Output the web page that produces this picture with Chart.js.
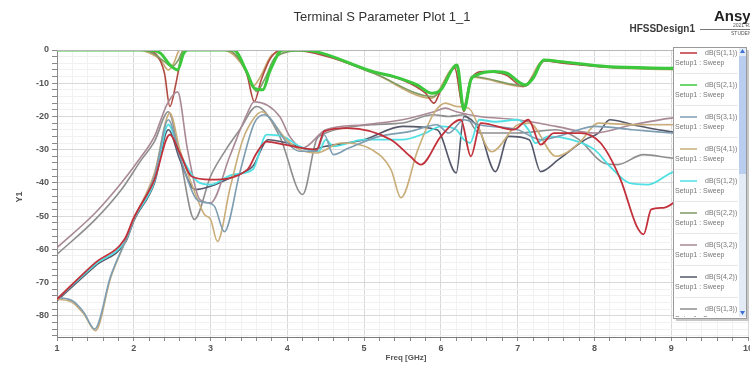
<!DOCTYPE html>
<html>
<head>
<meta charset="utf-8">
<script src="https://cdn.jsdelivr.net/npm/chart.js@4.4.1/dist/chart.umd.min.js"></script>
<style>
  html, body { margin: 0; padding: 0; background: #fff; }
  #wrap { width: 750px; height: 367px; }
</style>
</head>
<body>
<div id="wrap"><canvas id="chart" width="750" height="367"></canvas></div>
<script>
// names shown in the (scrolling) legend box
const seriesNames = [
  "dB(S(1,1))", "dB(S(2,1))", "dB(S(3,1))", "dB(S(4,1))", "dB(S(1,2))",
  "dB(S(2,2))", "dB(S(3,2))", "dB(S(4,2))", "dB(S(1,3))", "dB(S(3,3))", "dB(S(4,4))"
];
const xTickLabels = ["1", "2", "3", "4", "5", "6", "7", "8", "9", "10"];
const yTickLabels = ["0", "-10", "-20", "-30", "-40", "-50", "-60", "-70", "-80"];

// S(1,1)
const s11Freq = [1, 1.5, 1.88, 2.0, 2.27, 2.47, 2.6, 2.75, 3.0, 3.48, 3.6, 3.73, 3.96, 4.38, 4.48, 4.78, 5.35, 5.6, 5.74, 6.0, 6.26, 6.39, 6.52, 6.95, 7.14, 7.3, 7.47, 7.82, 8.08, 8.34, 8.55, 8.64, 8.74, 8.9, 9.03, 9.5, 10];
const s11Db = [-75, -64, -57, -50.5, -39, -25.5, -31, -38, -39, -36, -31, -27.6, -28.5, -30, -24.5, -23.5, -27, -32, -34.5, -26, -21, -32, -22, -24, -21, -28.5, -25, -25, -28, -39, -53, -55.5, -48, -47.5, -46, -35, -22];

// S(2,1)
const s21Freq = [1, 2.2, 2.35, 2.47, 2.57, 2.65, 2.7, 3.3, 3.47, 3.57, 3.68, 3.77, 3.94, 4.2, 4.38, 5.13, 5.39, 5.69, 5.88, 6.0, 6.17, 6.21, 6.3, 6.39, 6.47, 6.69, 6.86, 7.1, 7.2, 7.34, 7.56, 8.16, 9.03, 10];
const s21Db = [0, 0, -1, -4.5, -6, -1, 0, 0, -6.5, -11.5, -12, -6.5, 0, 0, -0.5, -6.6, -8, -10.5, -13, -12, -5, -4.5, -18, -9, -7.5, -6.5, -7, -10.5, -8.5, -3, -3.5, -5, -5.5, -6];

// S(3,1)
const s31Freq = [1, 1.2, 1.35, 1.49, 1.7, 1.9, 2.0, 2.27, 2.45, 2.6, 2.82, 2.95, 3.05, 3.18, 3.38, 3.57, 3.7, 4.0, 4.16, 4.38, 4.48, 4.6, 4.8, 5.2, 5.6, 5.95, 6.1, 6.3, 6.5, 7.0, 7.3, 7.6, 8.0, 8.5, 9.0, 10];
const s31Db = [-74.5, -75.5, -79, -84, -68, -57, -51, -38, -21, -32, -45, -46, -47, -54.7, -37, -22, -19.5, -28, -30.5, -30.5, -25.5, -31.5, -29.5, -26, -24.5, -22.5, -25, -21, -22.5, -24, -27, -25.5, -23, -24, -25, -27];

// S(4,1)
const s41Freq = [1, 1.2, 1.35, 1.5, 1.7, 1.9, 2.0, 2.27, 2.47, 2.6, 2.83, 2.92, 3.0, 3.09, 3.25, 3.42, 3.57, 3.67, 3.85, 3.99, 4.16, 4.38, 4.7, 5.1, 5.35, 5.48, 5.7, 5.91, 6.06, 6.2, 6.36, 6.66, 7.0, 7.15, 7.5, 7.8, 8.05, 8.5, 9.0, 10];
const s41Db = [-75, -76, -79.5, -84.5, -68.5, -57, -51, -37, -19, -30, -45, -49.5, -51, -57.6, -42, -27, -20.4, -18.6, -23, -27, -30, -31, -28, -30, -36, -44.5, -30, -19, -16, -17, -17.5, -30.6, -22.5, -22, -32, -28, -22, -22.5, -22.5, -21];

// S(1,2)
const s12Freq = [1, 1.5, 1.9, 2.0, 2.27, 2.45, 2.6, 2.86, 3.0, 3.29, 3.55, 3.73, 3.94, 4.16, 4.41, 4.5, 4.6, 5.0, 5.5, 5.8, 6.0, 6.2, 6.3, 6.38, 6.5, 6.7, 7.0, 7.14, 7.23, 7.4, 7.7, 8.0, 8.2, 8.45, 8.7, 9.0, 9.5, 10];
const s12Db = [-75, -64.5, -57, -51, -39.5, -22.5, -31, -40, -40.5, -37.5, -36, -25.5, -26, -29, -30.5, -27, -29, -27, -27, -25, -23, -24, -27, -28, -21, -21.6, -21, -24, -28, -26, -27, -30, -35, -40, -40.5, -37, -33, -30];

// S(2,2)
const s22Freq = [1, 2.1, 2.25, 2.4, 2.5, 2.58, 2.65, 3.2, 3.35, 3.5, 3.6, 3.7, 3.85, 4.2, 5.1, 5.9, 6.2, 6.3, 6.4, 7.1, 7.35, 8.2, 10];
const s22Db = [0, 0, -1, -3.5, -5, -3, 0, 0, -2, -8, -12.5, -9, -2, -0.2, -6.8, -14, -5, -17, -8, -10.8, -3.2, -5.2, -6];

// S(3,2)
const s32Freq = [1, 1.5, 1.84, 2.1, 2.27, 2.43, 2.57, 2.7, 2.86, 3.0, 3.25, 3.47, 3.57, 3.9, 4.03, 4.2, 4.5, 5.0, 5.5, 5.91, 6.06, 6.2, 6.5, 7.0, 7.5, 8.0, 8.5, 9.0, 10];
const s32Db = [-59.5, -49, -40, -32, -26, -16.5, -12.6, -30, -45, -46, -32, -19.5, -15.6, -20, -26, -29.5, -24, -22.5, -21, -18.6, -17.5, -18.6, -20, -21, -23, -25, -22.5, -20.5, -19];

// S(4,2)
const s42Freq = [1, 1.5, 1.9, 2.0, 2.27, 2.45, 2.6, 2.8, 3.0, 3.3, 3.55, 3.75, 4.0, 4.3, 4.5, 5.0, 5.5, 5.95, 6.2, 6.3, 6.5, 6.71, 6.88, 7.15, 7.3, 7.53, 7.88, 8.05, 8.2, 8.5, 9.0, 10];
const s42Db = [-75.5, -65, -57.5, -51.5, -40, -24, -33, -42, -41, -38, -35, -27, -28, -30, -29, -27, -23, -24, -37, -20, -24, -36.6, -26, -27, -36.6, -33, -27, -25, -21, -22.5, -24.6, -26];

// S(1,3)
const s13Freq = [1, 1.5, 1.84, 2.1, 2.27, 2.45, 2.6, 2.79, 3.0, 3.2, 3.38, 3.6, 3.9, 4.2, 4.38, 4.5, 5.1, 5.5, 5.9, 6.1, 6.3, 6.5, 7.0, 7.5, 7.8, 8.12, 8.3, 8.64, 9.0, 10];
const s13Db = [-61.5, -51, -42, -33, -27.5, -18.6, -32, -51, -38, -30, -24, -17, -26, -43.5, -27, -25, -22.5, -22, -19.5, -20, -19.5, -25, -25, -24, -27, -34, -34.5, -31.5, -32.5, -34];

// S(3,3)
const s33Freq = [1, 2.15, 2.3, 2.4, 2.47, 2.55, 2.62, 2.7, 3.2, 3.35, 3.47, 3.57, 3.66, 3.78, 3.92, 4.2, 4.6, 5.1, 5.5, 5.8, 5.91, 6.0, 6.18, 6.3, 6.4, 6.55, 6.85, 7.07, 7.2, 7.35, 7.6, 8.2, 9.0, 10];
const s33Db = [0, 0, -1.5, -7, -17, -10, -2, 0, 0, -2, -7, -15.5, -9, -2.5, 0, -0.3, -2.5, -6.5, -9, -13, -16, -12, -5.5, -18.5, -8.5, -6.5, -7.5, -11, -8, -3.3, -4, -5.2, -5.5, -6];

// S(4,4)
const s44Freq = [1, 2.05, 2.2, 2.35, 2.45, 2.52, 2.6, 3.15, 3.3, 3.45, 3.55, 3.65, 3.8, 4.1, 5.1, 5.88, 6.18, 6.29, 6.4, 7.08, 7.33, 8.2, 10];
const s44Db = [0, 0, -0.8, -3, -6, -4, 0, 0, -1.5, -6, -11, -8, -1.5, 0, -6.8, -14.5, -5.2, -17.5, -8.2, -11, -3.3, -5.3, -6.1];

const lineColors = ["#c2303a", "#3cc83c", "#7d9db2", "#c9ae7a", "#4fe0e4", "#7e9a62", "#a98996", "#55586a", "#8e8e8e", "#b04a40", "#c8a870"];
const lineWidths = [1.8, 3, 1.6, 1.6, 1.8, 1.6, 1.6, 1.6, 1.6, 1.6, 1.6];

const freqs = [s11Freq, s21Freq, s31Freq, s41Freq, s12Freq, s22Freq, s32Freq, s42Freq, s13Freq, s33Freq, s44Freq];
const dbs = [s11Db, s21Db, s31Db, s41Db, s12Db, s22Db, s32Db, s42Db, s13Db, s33Db, s44Db];

const toPoints = (f, d) => f.map((x, i) => ({ x: x, y: d[i] }));

const FONT = "'Liberation Sans', Arial, sans-serif";

const datasets = seriesNames.map((name, i) => ({
  label: name,
  data: toPoints(freqs[i], dbs[i]),
  borderColor: lineColors[i],
  borderWidth: lineWidths[i],
  pointRadius: 0,
  showLine: true,
  fill: false,
  cubicInterpolationMode: "monotone",
  // keep green and red on top
  order: i === 1 ? 0 : (i === 0 ? 1 : i + 2)
}));

const isInt = (v) => Math.abs(v - Math.round(v)) < 1e-6;

const decorPlugin = {
  id: "decor",
  beforeDraw(chart) {
    const c = chart.ctx;
    c.save();
    c.fillStyle = "#fff";
    c.fillRect(0, 0, chart.width, chart.height);
    c.restore();
  },
  afterDraw(chart) {
    const c = chart.ctx;
    const a = chart.chartArea;
    c.save();

    // plot frame top
    c.strokeStyle = "#b8b8b8";
    c.lineWidth = 1;
    c.beginPath();
    c.moveTo(a.left, a.top + 0.5);
    c.lineTo(a.right, a.top + 0.5);
    c.stroke();

    // title
    c.fillStyle = "#333";
    c.font = "13px " + FONT;
    c.textAlign = "center";
    c.textBaseline = "middle";
    c.fillText("Terminal S Parameter Plot 1_1", 382, 17);

    c.font = "bold 10px " + FONT;
    c.textAlign = "right";
    c.fillStyle = "#3a3a3a";
    c.fillText("HFSSDesign1", 695, 29);

    c.font = "bold 15px " + FONT;
    c.textAlign = "left";
    c.fillStyle = "#222";
    c.fillText("Ansys", 714, 17);
    c.strokeStyle = "#777";
    c.beginPath();
    c.moveTo(700, 29.5);
    c.lineTo(750, 29.5);
    c.stroke();
    c.font = "5px " + FONT;
    c.fillStyle = "#555";
    c.fillText("2021 R1", 733, 26);
    c.fillText("STUDENT", 731, 34);

    // axis titles
    c.font = "bold 8px " + FONT;
    c.fillStyle = "#555";
    c.textAlign = "center";
    c.fillText("Freq [GHz]", 406, 358);
    c.save();
    c.translate(20, 197);
    c.rotate(-Math.PI / 2);
    c.font = "bold 9px " + FONT;
    c.fillText("Y1", 0, 0);
    c.restore();

    // legend box overlapping the plot
    const bx = 673, by = 47, bw = 73, bh = 271;
    c.fillStyle = "#c8c8c8";
    c.fillRect(bx + 3, by + 3, bw, bh);
    c.fillStyle = "#fff";
    c.fillRect(bx, by, bw, bh);
    c.strokeStyle = "#9a9a9a";
    c.strokeRect(bx + 0.5, by + 0.5, bw, bh);

    c.save();
    c.beginPath();
    c.rect(bx + 1, by + 1, bw - 8, bh - 2);
    c.clip();
    for (let i = 0; i < 9; i++) {
      const y0 = 53 + i * 32;
      c.strokeStyle = lineColors[i];
      c.lineWidth = 1.5;
      c.beginPath();
      c.moveTo(680, y0);
      c.lineTo(697, y0);
      c.stroke();
      c.fillStyle = "#777";
      c.font = "7px " + FONT;
      c.textAlign = "left";
      c.fillText(seriesNames[i], 705, y0);
      c.fillText("Setup1 : Sweep", 675, y0 + 10);
      if (i < 8) {
        c.strokeStyle = "#e6e6e6";
        c.lineWidth = 1;
        c.beginPath();
        c.moveTo(bx + 2, y0 + 20.5);
        c.lineTo(bx + bw - 8, y0 + 20.5);
        c.stroke();
      }
    }
    c.restore();

    // scroll bar
    c.fillStyle = "#e3ebf7";
    c.fillRect(739, 48, 7, 269);
    c.fillStyle = "#b9cdee";
    c.fillRect(739, 56, 7, 118);
    c.fillStyle = "#3d6fd6";
    c.beginPath();
    c.moveTo(740, 53); c.lineTo(745, 53); c.lineTo(742.5, 49);
    c.fill();
    c.beginPath();
    c.moveTo(740, 311); c.lineTo(745, 311); c.lineTo(742.5, 315);
    c.fill();

    c.restore();
  }
};

new Chart(document.getElementById("chart"), {
  type: "scatter",
  data: { datasets: datasets },
  plugins: [decorPlugin],
  options: {
    responsive: false,
    devicePixelRatio: 1,
    animation: false,
    layout: { padding: { top: 50, right: 2, left: 0, bottom: 0 } },
    plugins: {
      legend: { display: false },
      title: { display: false },
      tooltip: { enabled: false }
    },
    scales: {
      x: {
        type: "linear",
        min: 1,
        max: 10,
        afterFit: (s) => { s.height = 30; s.paddingLeft = 0; s.paddingRight = 0; },
        ticks: {
          stepSize: 0.2,
          autoSkip: false,
          maxRotation: 0,
          padding: 2,
          color: "#555",
          font: { size: 9, weight: "bold", family: FONT },
          callback: (v) => isInt(v) ? xTickLabels[Math.round(v) - 1] : ""
        },
        grid: {
          color: (ctx) => isInt(ctx.tick.value) ? "#d9d9d9" : "#f1f1f1",
          tickColor: "#8a8a8a",
          tickLength: 4
        },
        border: { color: "#7a7a7a", width: 1 }
      },
      y: {
        type: "linear",
        min: -86.4,
        max: 0,
        afterFit: (s) => { s.width = 57; s.paddingTop = 0; s.paddingBottom = 0; },
        ticks: {
          stepSize: 2,
          includeBounds: false,
          autoSkip: false,
          padding: 3,
          color: "#555",
          font: { size: 9, weight: "bold", family: FONT },
          callback: (v) => (Math.round(v) % 10 === 0) ? yTickLabels[Math.round(-v / 10)] : ""
        },
        grid: {
          color: (ctx) => (Math.round(ctx.tick.value) % 10 === 0) ? "#d9d9d9" : "#f1f1f1",
          tickColor: "#8a8a8a",
          tickLength: 5
        },
        border: { color: "#8a8a8a", width: 1 }
      }
    }
  }
});
</script>
</body>
</html>
